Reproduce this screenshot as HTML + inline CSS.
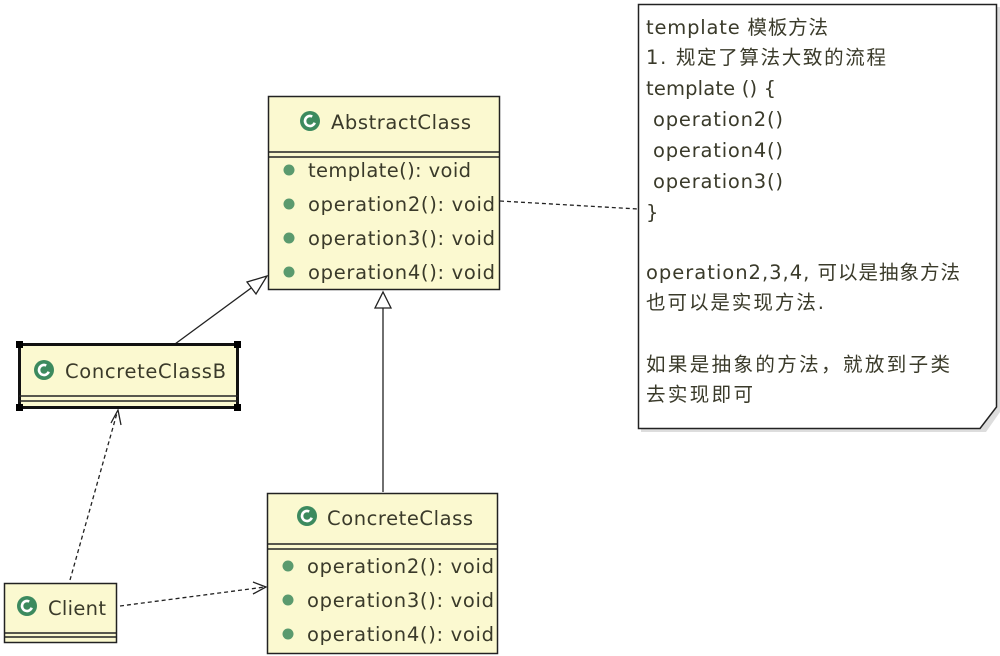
<!DOCTYPE html>
<html><head><meta charset="utf-8"><style>
html,body{margin:0;padding:0;background:#fff}
svg{display:block}
text{font-family:"DejaVu Sans","Noto Sans CJK SC",sans-serif;fill:#3a3a2a}
</style></head><body>
<svg width="1000" height="656" viewBox="0 0 1000 656" xmlns="http://www.w3.org/2000/svg">
<defs>
<g id="cicon"><circle r="10" fill="#3c8a5e"/><circle r="5" fill="none" stroke="#fff" stroke-width="2.6" stroke-dasharray="24,8" transform="rotate(20)"/></g>
<g id="dot"><circle r="5.5" fill="#5a9a6e"/></g>
</defs>

<g stroke="#222" stroke-width="1.3" fill="none">
<line x1="175" y1="344" x2="258" y2="283"/>
<polygon points="267,276 247,282 256,294" fill="#fff"/>
<line x1="383" y1="492" x2="383" y2="306"/>
<polygon points="383,292 375,308 391,308" fill="#fff"/>
<path d="M70,580 L117,413" stroke-dasharray="4,3"/>
<path d="M111,423 L118,410 L121,425"/>
<path d="M120,606 L265,587" stroke-dasharray="4,3"/>
<path d="M253,582 L266,587 L253,594"/>
<path d="M500,201 L638,209" stroke-dasharray="4,3"/>
</g>

<g font-size="19.5">
<rect x="268.5" y="96.5" width="231" height="193" fill="#fbf9d0" stroke="#222" stroke-width="1.5"/>
<line x1="268" y1="152" x2="500" y2="152" stroke="#222" stroke-width="1.5"/>
<line x1="268" y1="157" x2="500" y2="157" stroke="#222" stroke-width="1.5"/>
<use href="#cicon" x="310" y="121"/>
<text x="331" y="129" textLength="140">AbstractClass</text>
<use href="#dot" x="289" y="170"/><text x="308" y="177" textLength="163">template(): void</text>
<use href="#dot" x="289" y="204"/><text x="308" y="211" textLength="187">operation2(): void</text>
<use href="#dot" x="289" y="238"/><text x="308" y="245" textLength="187">operation3(): void</text>
<use href="#dot" x="289" y="272"/><text x="308" y="279" textLength="187">operation4(): void</text>

<rect x="19.5" y="344.5" width="218" height="63" fill="#fbf9d0" stroke="#111" stroke-width="3"/>
<line x1="19" y1="396" x2="238" y2="396" stroke="#222" stroke-width="1.5"/>
<line x1="19" y1="401" x2="238" y2="401" stroke="#222" stroke-width="1.5"/>
<g fill="#000"><rect x="16" y="341" width="7" height="7"/><rect x="234" y="341" width="7" height="7"/><rect x="16" y="404" width="7" height="7"/><rect x="234" y="404" width="7" height="7"/></g>
<use href="#cicon" x="44" y="370"/>
<text x="65" y="378" textLength="161">ConcreteClassB</text>

<rect x="4.5" y="583.5" width="112" height="59" fill="#fbf9d0" stroke="#222" stroke-width="1.5"/>
<line x1="4" y1="633" x2="117" y2="633" stroke="#222" stroke-width="1.5"/>
<line x1="4" y1="637" x2="117" y2="637" stroke="#222" stroke-width="1.5"/>
<use href="#cicon" x="27" y="606"/>
<text x="48" y="615" textLength="58">Client</text>

<rect x="267.5" y="493.5" width="230" height="160" fill="#fbf9d0" stroke="#222" stroke-width="1.5"/>
<line x1="267" y1="544" x2="498" y2="544" stroke="#222" stroke-width="1.5"/>
<line x1="267" y1="549" x2="498" y2="549" stroke="#222" stroke-width="1.5"/>
<use href="#cicon" x="307" y="516"/>
<text x="327" y="525" textLength="146">ConcreteClass</text>
<use href="#dot" x="288" y="566"/><text x="307" y="573" textLength="187">operation2(): void</text>
<use href="#dot" x="288" y="600"/><text x="307" y="607" textLength="187">operation3(): void</text>
<use href="#dot" x="288" y="634"/><text x="307" y="641" textLength="187">operation4(): void</text>
</g>

<path d="M641,7 L1000,7 L1000,412 L986,432 L641,432 Z" fill="#ddd" stroke="none"/>
<path d="M638.5,4.5 L996.5,4.5 L996.5,407 L980,428.5 L638.5,428.5 Z" fill="#fff" stroke="#222" stroke-width="1.5"/>
<g font-size="19.5">
<text x="646" y="34" textLength="182">template 模板方法</text>
<text x="646" y="64" textLength="240">1. 规定了算法大致的流程</text>
<text x="646" y="95" textLength="130">template () {</text>
<text x="646" y="126" xml:space="preserve" textLength="137"> operation2()</text>
<text x="646" y="157" xml:space="preserve" textLength="137"> operation4()</text>
<text x="646" y="188" xml:space="preserve" textLength="137"> operation3()</text>
<text x="646" y="219">}</text>
<text x="646" y="279" textLength="314">operation2,3,4, 可以是抽象方法</text>
<text x="646" y="309" textLength="178">也可以是实现方法.</text>
<text x="646" y="371" textLength="304">如果是抽象的方法，就放到子类</text>
<text x="646" y="401" textLength="107">去实现即可</text>
</g>
</svg>
</body></html>
